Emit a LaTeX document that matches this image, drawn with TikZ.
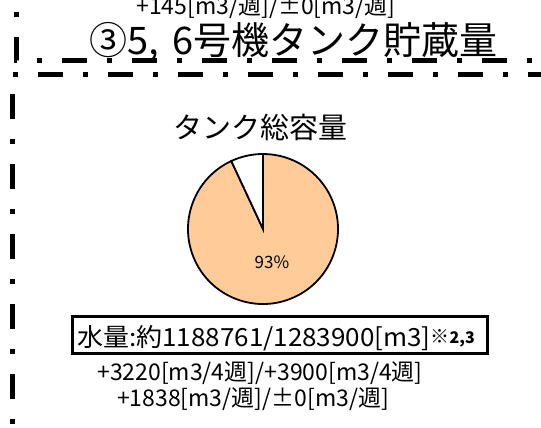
\documentclass[tikz,border=0pt]{standalone}
\usepackage{fontspec}
\setmainfont{Noto Sans CJK JP}
\usepackage{xcolor}
\usepackage{tikz}
\usetikzlibrary{positioning,calc}

\definecolor{tankfill}{HTML}{FFCC99}

\tikzset{
  frameline/.style={line width=5pt, dash pattern=on 25pt off 20pt on 5pt off 20pt},
  flowtext/.style={font=\fontsize{23}{23}\selectfont, inner sep=0pt},
}

\begin{document}
\begin{tikzpicture}[x=1pt,y=-1pt]
        \useasboundingbox (0,0) rectangle (541,428);
        \clip (0,0) rectangle (541,428);

        % Frames (dash-dot)
        \draw[frameline] (16,-33) -- (16,61) -- (580,61);
        \draw[frameline] (553,75) -- (12,75) -- (12,460);

        % Title and weekly change above it
        \node[flowtext] (prevflow) at (266,7) {+145[m3/週]/±0[m3/週]};
        \node[font=\fontsize{38}{38}\selectfont, inner sep=0pt, anchor=east] (title) at (498,42) {③5,\hspace{0.35em}6号機タンク貯蔵量};

        % Pie chart
        \node[font=\fontsize{29}{29}\selectfont, inner sep=0pt] (captotal) at (260,127) {タンク総容量};
        \begin{scope}[shift={(263,229)},yscale=-1]
          \filldraw[fill=tankfill, line width=1.8pt] (0,0) -- (115:75) arc[start angle=115, end angle=450, radius=75] -- cycle;
          \filldraw[fill=white, line width=1.8pt] (0,0) -- (90:75) arc[start angle=90, end angle=115, radius=75] -- cycle;
        \end{scope}
        \node[font=\fontsize{17}{17}\selectfont, inner sep=0pt] (pct) at (272,262) {93\%};

        % Water amount
        \node[draw, line width=3pt, minimum width=415pt, minimum height=37pt, inner sep=0pt] (water) at (279.5,334.5) {};
        \node[anchor=base west, inner sep=0pt] (watertext) at (77,346)
          {\scalebox{1.04}[1]{\fontsize{25}{25}\selectfont 水量:約1188761/1283900[m3]}\raisebox{3pt}{\bfseries\fontsize{19}{19}\selectfont ※\fontsize{16}{16}\selectfont 2,3}};

        % Change per 4 weeks / per week
        \node[flowtext] (flow4w) at (260,373) {+3220[m3/4週]/+3900[m3/4週]};
        \node[flowtext] (flow1w) at (253,399) {+1838[m3/週]/±0[m3/週]};
\end{tikzpicture}
\end{document}
